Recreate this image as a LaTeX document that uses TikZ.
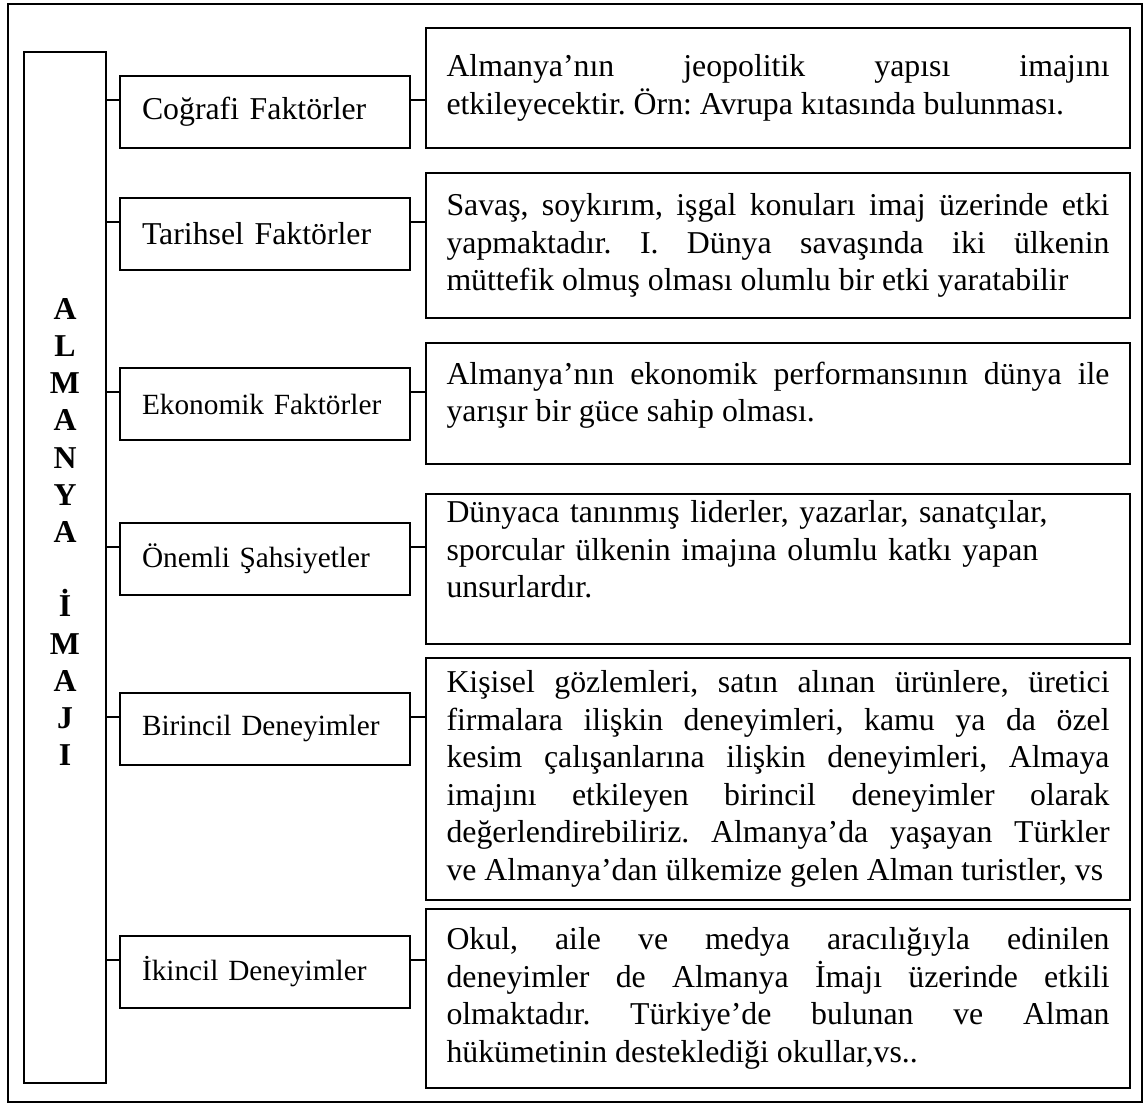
\documentclass[tikz,border=0pt]{standalone}
\usepackage{fontspec}
\setmainfont{Liberation Serif}
\usetikzlibrary{positioning}
\frenchspacing
\tolerance=10000
\hbadness=10000
\hyphenpenalty=10000

\begin{document}
\begin{tikzpicture}[x=0.5pt, y=-0.5pt, line width=1pt,
    every node/.style={font=\fontsize{15.9}{18.75}\selectfont},
    titlebox/.style={draw, minimum width=41pt, minimum height=515.5pt},
    factor/.style={draw, minimum width=145pt, minimum height=36pt, text width=123pt, align=left},
    smallfactor/.style={factor, font=\fontsize{14.65}{17.5}\selectfont},
    detail/.style={draw, minimum width=352pt, text width=331.5pt, align=justify}]
    \useasboundingbox (0,0) rectangle (1144,1104);

    % outer frame
    \draw (8,4) rectangle (1142,1102);

    % title column
    \node[titlebox] (title) at (65,567.5) {};
    \node[font=\fontsize{15.9}{18.6}\selectfont\bfseries, align=center] (letters) at (65,532)
        {A\\L\\M\\A\\N\\Y\\A\\[18.6pt]İ\\M\\A\\J\\I};

    % factors
    \node[factor] (cog) at (265,112) {Coğrafi Faktörler};
    \node[factor] (tar) at (265,233.5) {Tarihsel Faktörler};
    \node[smallfactor] (eko) at (265,404) {Ekonomik Faktörler};
    \node[smallfactor] (onm) at (265,559) {Önemli Şahsiyetler};
    \node[smallfactor] (bir) at (265,728.5) {Birincil Deneyimler};
    \node[smallfactor] (iki) at (265,972) {İkincil Deneyimler};

    % explanations
    \node[detail, minimum height=60pt] (cogd) at (778,88)
        {Almanya’nın jeopolitik yapısı imajını\linebreak
         etkileyecektir. Örn: Avrupa kıtasında bulunması.};
    \node[detail, minimum height=72.5pt] (tard) at (778,245.5)
        {Savaş, soykırım, işgal konuları imaj üzerinde etki\linebreak
         yapmaktadır. I. Dünya savaşında iki ülkenin\linebreak
         müttefik olmuş olması olumlu bir etki yaratabilir};
    \node[detail, minimum height=60.5pt] (ekod) at (778,403.5)
        {Almanya’nın ekonomik performansının dünya ile\linebreak
         yarışır bir güce sahip olması.\rule[-11.5pt]{0pt}{11.5pt}};
    \node[detail, minimum height=74pt, align=left] (onmd) at (778,569)
        {Dünyaca tanınmış liderler, yazarlar, sanatçılar,\\
         sporcular ülkenin imajına olumlu katkı yapan\\
         unsurlardır.\rule[-20pt]{0pt}{20pt}};
    \node[detail, minimum height=121pt] (bird) at (778,779)
        {Kişisel gözlemleri, satın alınan ürünlere, üretici\linebreak
         firmalara ilişkin deneyimleri, kamu ya da özel\linebreak
         kesim çalışanlarına ilişkin deneyimleri, Almaya\linebreak
         imajını etkileyen birincil deneyimler olarak\linebreak
         değerlendirebiliriz. Almanya’da yaşayan Türkler\linebreak
         ve Almanya’dan ülkemize gelen Alman turistler, vs};
    \node[detail, minimum height=89.5pt] (ikid) at (778,998.5)
        {Okul, aile ve medya aracılığıyla edinilen\linebreak
         deneyimler de Almanya İmajı üzerinde etkili\linebreak
         olmaktadır. Türkiye’de bulunan ve Alman\linebreak
         hükümetinin desteklediği okullar,vs..};

    % connectors
    \foreach \f/\d in {cog/cogd, tar/tard, eko/ekod, onm/onmd, bir/bird, iki/ikid} {
        \draw ([yshift=6pt]\f.west -| title.east) -- ([yshift=6pt]\f.west);
        \draw ([yshift=6pt]\f.east) -- ([yshift=6pt]\f.east -| \d.west);
    }
\end{tikzpicture}
\end{document}
